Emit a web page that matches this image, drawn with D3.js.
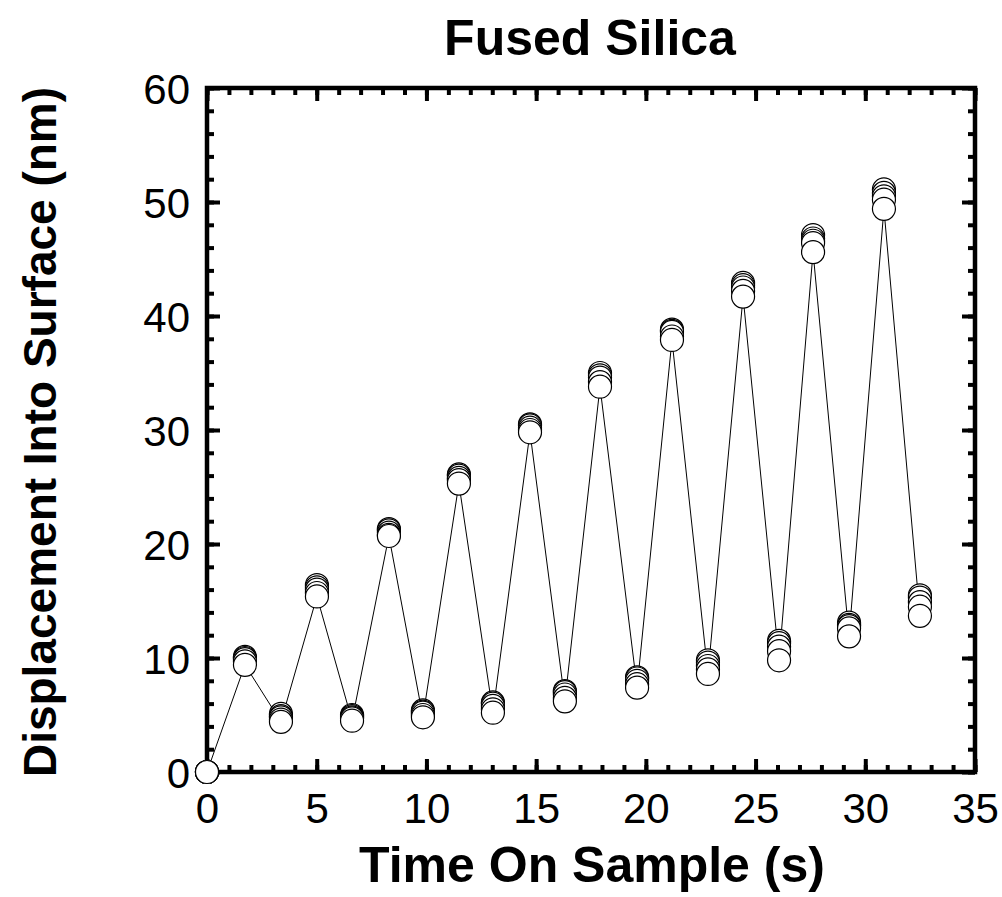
<!DOCTYPE html>
<html>
<head>
<meta charset="utf-8">
<script src="https://cdn.jsdelivr.net/npm/d3@7/dist/d3.min.js"></script>
<style>
  body { margin: 0; background: #fff; }
  svg { display: block; }
  text { font-family: "Liberation Sans", Arial, sans-serif; }
</style>
</head>
<body>
<div id="chart"></div>
<script>
// time on sample (s), shared by every run
var times = [0, 1.73, 3.37, 5.01, 6.61, 8.29, 9.84, 11.48, 13.03, 14.72, 16.31,
  17.91, 19.6, 21.19, 22.83, 24.43, 26.07, 27.62, 29.26, 30.85, 32.49];

// displacement (nm), five overlaid runs
var run1 = [0, 10.1, 5.1, 16.4, 5.0, 21.3, 5.4, 26.1, 6.1, 30.5, 7.1, 35.0, 8.3, 38.8, 9.8, 42.9, 11.5, 47.1, 13.1, 51.1, 15.5];
var run2 = [0, 10.0, 4.9, 16.2, 4.9, 21.2, 5.3, 26.0, 6.0, 30.4, 7.0, 34.8, 8.2, 38.7, 9.6, 42.7, 11.3, 46.8, 12.9, 50.8, 15.3];
var run3 = [0, 9.9, 4.8, 16.0, 4.8, 21.0, 5.2, 25.8, 5.8, 30.2, 6.8, 34.6, 8.0, 38.6, 9.3, 42.5, 11.0, 46.6, 12.8, 50.5, 14.9];
var run4 = [0, 9.7, 4.6, 15.7, 4.7, 20.8, 5.0, 25.6, 5.5, 30.0, 6.5, 34.2, 7.7, 38.2, 9.0, 42.2, 10.6, 46.4, 12.6, 50.2, 14.5];
var run5 = [0, 9.4, 4.4, 15.4, 4.5, 20.7, 4.8, 25.3, 5.2, 29.8, 6.2, 33.8, 7.4, 37.9, 8.6, 41.7, 9.8, 45.6, 11.9, 49.4, 13.7];
var runs = [run1, run2, run3, run4, run5];

var xTicks = [0, 5, 10, 15, 20, 25, 30, 35];
var yTicks = [0, 10, 20, 30, 40, 50, 60];

var W = 1002, H = 897;
var pLeft = 207, pRight = 975, pTop = 88, pBottom = 772;

var svg = d3.select("#chart").append("svg")
  .attr("width", W)
  .attr("height", H);

var x = d3.scaleLinear().domain([0, 35]).range([pLeft, pRight]);
var y = d3.scaleLinear().domain([0, 60]).range([pBottom, pTop]);

// ticks, all pointing inward
function tickAxis(axis, vals, size, tr) {
  var g = svg.append("g")
    .attr("transform", tr)
    .call(axis.tickValues(vals).tickSize(size).tickFormat(""));
  g.select(".domain").remove();
  g.selectAll("line").attr("stroke", "#000").attr("stroke-width", 4);
  return g;
}
var xMinor = d3.range(0, 36, 1), yMinor = d3.range(0, 61, 2);

tickAxis(d3.axisBottom(x), xMinor, -7, "translate(0," + pBottom + ")");
tickAxis(d3.axisBottom(x), xTicks, -13, "translate(0," + pBottom + ")");
tickAxis(d3.axisTop(x), xMinor, -7, "translate(0," + pTop + ")");
tickAxis(d3.axisTop(x), xTicks, -13, "translate(0," + pTop + ")");
tickAxis(d3.axisLeft(y), yMinor, -7, "translate(" + pLeft + ",0)");
tickAxis(d3.axisLeft(y), yTicks, -13, "translate(" + pLeft + ",0)");
tickAxis(d3.axisRight(y), yMinor, -7, "translate(" + pRight + ",0)");
tickAxis(d3.axisRight(y), yTicks, -13, "translate(" + pRight + ",0)");

// frame
svg.append("rect")
  .attr("x", pLeft).attr("y", pTop)
  .attr("width", pRight - pLeft).attr("height", pBottom - pTop)
  .attr("fill", "none")
  .attr("stroke", "#000")
  .attr("stroke-width", 4.5);

// tick labels
var xl = svg.append("g")
  .attr("transform", "translate(0," + pBottom + ")")
  .call(d3.axisBottom(x).tickValues(xTicks).tickSize(0).tickPadding(0));
xl.select(".domain").remove();
xl.selectAll("text")
  .attr("dy", null).attr("y", 51)
  .attr("fill", "#000")
  .style("font-size", "42px");

var yl = svg.append("g")
  .attr("transform", "translate(" + pLeft + ",0)")
  .call(d3.axisLeft(y).tickValues(yTicks).tickSize(0).tickPadding(0));
yl.select(".domain").remove();
yl.selectAll("text")
  .attr("x", -17).attr("dy", "0.36em")
  .attr("fill", "#000")
  .style("font-size", "42px");

// connecting line (last run)
var line = d3.line()
  .x(function(d, i) { return x(times[i]); })
  .y(function(d) { return y(d); });

svg.append("path")
  .datum(run5)
  .attr("d", line)
  .attr("fill", "none")
  .attr("stroke", "#000")
  .attr("stroke-width", 1);

// markers, run by run
runs.forEach(function(r) {
  svg.append("g").selectAll("circle")
    .data(r)
    .enter().append("circle")
    .attr("cx", function(d, i) { return x(times[i]); })
    .attr("cy", function(d) { return y(d); })
    .attr("r", 11.5)
    .attr("fill", "#fff")
    .attr("stroke", "#000")
    .attr("stroke-width", 1.2);
});

// titles
svg.append("text")
  .attr("x", 590).attr("y", 55)
  .attr("text-anchor", "middle")
  .style("font-size", "50px").style("font-weight", "bold")
  .text("Fused Silica");

svg.append("text")
  .attr("x", 592).attr("y", 882)
  .attr("text-anchor", "middle")
  .style("font-size", "50px").style("font-weight", "bold")
  .text("Time On Sample (s)");

svg.append("text")
  .attr("transform", "translate(56,432) rotate(-90)")
  .attr("text-anchor", "middle")
  .style("font-size", "46px").style("font-weight", "bold")
  .text("Displacement Into Surface (nm)");
</script>
</body>
</html>
